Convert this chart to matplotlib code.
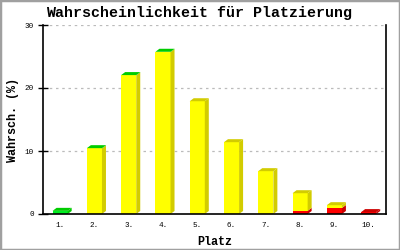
import matplotlib
matplotlib.use("Agg")
import matplotlib.pyplot as plt
from matplotlib.patches import Polygon, Rectangle
import numpy as np

places = ["1.", "2.", "3.", "4.", "5.", "6.", "7.", "8.", "9.", "10."]
red_vals = [0, 0, 0, 0, 0, 0, 0, 0.5, 0.95, 0.3]
yellow_vals = [0, 10.4, 22.0, 25.7, 17.9, 11.4, 6.8, 2.8, 0.45, 0]
green_vals = [0.5, 0.05, 0.05, 0.05, 0, 0, 0, 0, 0, 0]
yticks = [0, 10, 20, 30]

series = [
    (red_vals, "#ff0000", "#cc0000"),
    (yellow_vals, "#ffff00", "#d2cc00"),
    (green_vals, "#00ee22", "#00cc00"),
]

fig = plt.figure(figsize=(4, 2.5), dpi=100)
fig.patches.append(Rectangle((0, 0), 1, 1, transform=fig.transFigure,
                             fill=False, edgecolor="#a0a0a0", linewidth=2.5))
ax = fig.add_axes([0.1075, 0.144, 0.857, 0.756])
ax.set_xlim(0.5, 10.5)
ax.set_ylim(0, 30)

# pixel -> data conversion for depth
ax_w_px = 0.857 * 400
ax_h_px = 0.756 * 250
dx = 4 * 10 / ax_w_px
dy = 3 * 30 / ax_h_px
width = 0.44

x = np.arange(1, len(places) + 1)
for yv in yticks[1:]:
    ax.axhline(yv, color="#bbbbbb", linestyle=(0, (2, 3)), linewidth=0.9, zorder=0)

bottoms = np.zeros(len(places))
top_colors = [None] * len(places)
for vals, front, dark in series:
    vals = np.array(vals, dtype=float)
    ax.bar(x, vals, width=width, bottom=bottoms, color=front, linewidth=0, zorder=2)
    for i, (xi, v, b) in enumerate(zip(x, vals, bottoms)):
        if v <= 0:
            continue
        xr = xi + width / 2
        side = Polygon([(xr, b), (xr + dx, b + dy), (xr + dx, b + v + dy), (xr, b + v)],
                       closed=True, facecolor=dark, edgecolor="none", zorder=2)
        ax.add_patch(side)
        top_colors[i] = dark
    bottoms = bottoms + vals

for i, (xi, h) in enumerate(zip(x, bottoms)):
    if top_colors[i] is None:
        continue
    xl = xi - width / 2
    xr = xi + width / 2
    top = Polygon([(xl, h), (xl + dx, h + dy), (xr + dx, h + dy), (xr, h)],
                  closed=True, facecolor=top_colors[i], edgecolor="none", zorder=3)
    ax.add_patch(top)

for s in ["left", "bottom", "right"]:
    ax.spines[s].set_linewidth(1.2)
    ax.spines[s].set_color("black")
ax.spines["top"].set_visible(False)

mono = "Liberation Mono"
ax.set_xticks(x)
ax.set_xticklabels(places, fontfamily=mono, fontsize=5.5)
ax.tick_params(axis="x", length=0, pad=6)
ax.set_yticks(yticks)
ax.set_yticklabels([str(t) for t in yticks], fontfamily=mono, fontsize=5.5)
ax.tick_params(axis="y", direction="inout", length=7, width=1.0, pad=3)

ax.set_xlabel("Platz", fontfamily=mono, fontsize=8.5, fontweight="bold", labelpad=5)
ax.set_ylabel("Wahrsch. (%)", fontfamily=mono, fontsize=8.5, fontweight="bold", labelpad=4)
fig.text(0.4975, 0.948, "Wahrscheinlichkeit für Platzierung", fontfamily=mono,
         fontsize=10.8, fontweight="bold", ha="center", va="center")

fig.savefig("out.png", dpi=100)
